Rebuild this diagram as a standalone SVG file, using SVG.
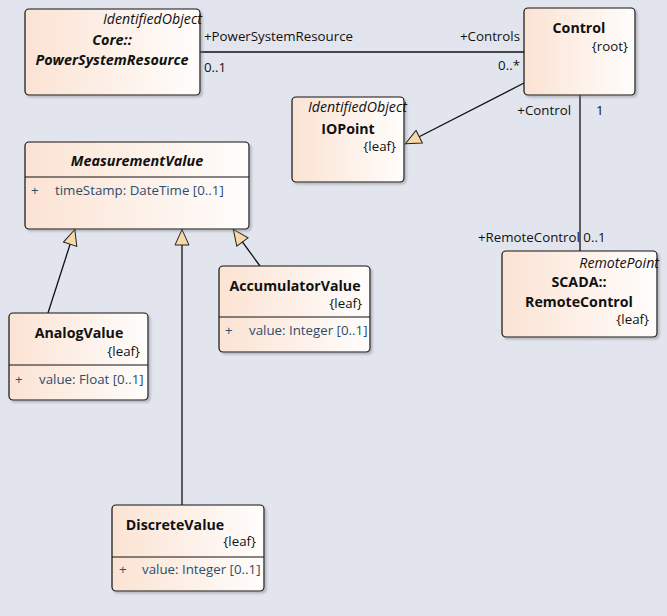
<svg xmlns="http://www.w3.org/2000/svg" width="667" height="616" viewBox="0 0 667 616">
<defs>
<linearGradient id="g" x1="0" y1="0" x2="1" y2="0">
<stop offset="0" stop-color="#fbe3d3"/>
<stop offset="1" stop-color="#fffdfc"/>
</linearGradient>
<filter id="sh" x="-10%" y="-10%" width="130%" height="130%">
<feDropShadow dx="2" dy="2" stdDeviation="1.2" flood-color="#7a7a80" flood-opacity="0.45"/>
</filter>
<marker id="gen" viewBox="0 0 17 16" refX="17" refY="8" markerWidth="17" markerHeight="16" markerUnits="userSpaceOnUse" orient="auto">
<path d="M16.5,8 L1,1 L1,15 Z" fill="#f6d9a6" stroke="#222" stroke-width="1"/>
</marker>
</defs>
<style>
text{font-family:"Open Sans","Noto Sans","DejaVu Sans",sans-serif;font-size:13.3px;fill:#111}
.box{fill:url(#g);stroke:#111;stroke-width:1.2;filter:url(#sh)}
.div{stroke:#111;stroke-width:1}
.nm{font-weight:bold;font-size:14.2px;text-anchor:middle}
.ab{font-style:italic;font-size:14.4px}
.st{font-style:italic;text-anchor:end;font-size:14.2px}
.tag{text-anchor:end}
.at{fill:#2e4d6b}
.ln{stroke:#111;stroke-width:1.3;fill:none}
.lb{font-size:13.3px}
</style>
<rect width="667" height="616" fill="#e2e5ee"/>
<g id="connectors">
<line class="ln" x1="200" y1="52" x2="524" y2="52"/>
<line class="ln" x1="524" y1="83" x2="405" y2="144" marker-end="url(#gen)"/>
<line class="ln" x1="580" y1="95" x2="580" y2="251"/>
<line class="ln" x1="48" y1="313" x2="75" y2="229" marker-end="url(#gen)"/>
<line class="ln" x1="182" y1="505" x2="182" y2="229" marker-end="url(#gen)"/>
<line class="ln" x1="260" y1="266" x2="233" y2="229" marker-end="url(#gen)"/>
<text class="lb" x="204" y="41">+PowerSystemResource</text>
<text class="lb" x="204" y="72">0..1</text>
<text class="lb" x="520" y="41" text-anchor="end">+Controls</text>
<text class="lb" x="520" y="70" text-anchor="end">0..*</text>
<text class="lb" x="571" y="115" text-anchor="end">+Control</text>
<text class="lb" x="596" y="115">1</text>
<text class="lb" x="478" y="242">+RemoteControl 0..1</text>
</g>
<g id="PowerSystemResource">
<rect class="box" x="25" y="9" width="175" height="86" rx="4"/>
<text class="st" x="202" y="24">IdentifiedObject</text>
<text class="nm ab" x="112" y="44.5">Core::</text>
<text class="nm ab" x="112" y="64.5">PowerSystemResource</text>
</g>
<g id="Control">
<rect class="box" x="524" y="8" width="111" height="87" rx="4"/>
<text class="nm" x="579" y="33">Control</text>
<text class="tag" x="628" y="51">{root}</text>
</g>
<g id="IOPoint">
<rect class="box" x="292" y="97" width="112" height="85" rx="4"/>
<text class="st" x="407" y="112">IdentifiedObject</text>
<text class="nm" x="348" y="134">IOPoint</text>
<text class="tag" x="396" y="151">{leaf}</text>
</g>
<g id="MeasurementValue">
<rect class="box" x="25" y="142" width="224" height="87" rx="4"/>
<line class="div" x1="25" y1="177" x2="249" y2="177"/>
<text class="nm ab" x="137" y="166">MeasurementValue</text>
<text class="at" x="31" y="195">+</text>
<text class="at" x="55" y="195">timeStamp: DateTime [0..1]</text>
</g>
<g id="AnalogValue">
<rect class="box" x="9" y="313" width="139" height="87" rx="4"/>
<line class="div" x1="9" y1="365" x2="148" y2="365"/>
<text class="nm" x="79" y="338">AnalogValue</text>
<text class="tag" x="140" y="356">{leaf}</text>
<text class="at" x="15" y="384">+</text>
<text class="at" x="39" y="384">value: Float [0..1]</text>
</g>
<g id="AccumulatorValue">
<rect class="box" x="219" y="266" width="151" height="86" rx="4"/>
<line class="div" x1="219" y1="317" x2="370" y2="317"/>
<text class="nm" x="295" y="291">AccumulatorValue</text>
<text class="tag" x="362" y="308">{leaf}</text>
<text class="at" x="225" y="335">+</text>
<text class="at" x="249" y="335">value: Integer [0..1]</text>
</g>
<g id="RemoteControl">
<rect class="box" x="502" y="251" width="155" height="86" rx="4"/>
<text class="st" x="659" y="268">RemotePoint</text>
<text class="nm" x="579" y="287">SCADA::</text>
<text class="nm" x="579" y="306.5">RemoteControl</text>
<text class="tag" x="649" y="324">{leaf}</text>
</g>
<g id="DiscreteValue">
<rect class="box" x="112" y="505" width="152" height="86" rx="4"/>
<line class="div" x1="112" y1="557" x2="264" y2="557"/>
<text class="nm" x="175" y="530">DiscreteValue</text>
<text class="tag" x="256" y="546">{leaf}</text>
<text class="at" x="119" y="574">+</text>
<text class="at" x="142" y="574">value: Integer [0..1]</text>
</g>
</svg>
